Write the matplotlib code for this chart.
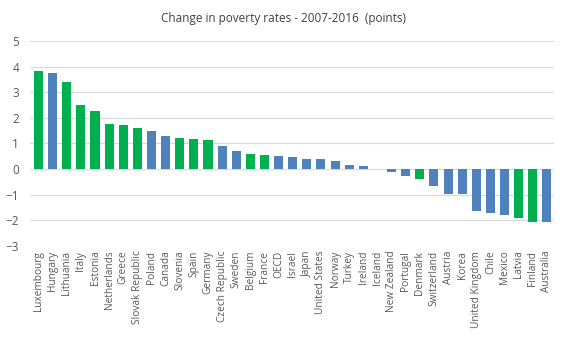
import matplotlib
matplotlib.use('Agg')
import matplotlib.pyplot as plt

countries = ['Luxembourg', 'Hungary', 'Lithuania', 'Italy', 'Estonia', 'Netherlands',
             'Greece', 'Slovak Republic', 'Poland', 'Canada', 'Slovenia', 'Spain',
             'Germany', 'Czech Republic', 'Sweden', 'Belgium', 'France', 'OECD',
             'Israel', 'Japan', 'United States', 'Norway', 'Turkey', 'Ireland',
             'Iceland', 'New Zealand', 'Portugal', 'Denmark', 'Switzerland', 'Austria',
             'Korea', 'United Kingdom', 'Chile', 'Mexico', 'Latvia', 'Finland', 'Australia']
change = [3.83, 3.76, 3.40, 2.50, 2.28, 1.76, 1.72, 1.60, 1.48, 1.29, 1.21, 1.17,
          1.13, 0.90, 0.70, 0.59, 0.55, 0.51, 0.47, 0.40, 0.40, 0.31, 0.16, 0.12,
          0.0, -0.10, -0.26, -0.39, -0.65, -0.96, -0.96, -1.64, -1.70, -1.80,
          -1.91, -2.06, -2.06]
green = ['Luxembourg', 'Lithuania', 'Italy', 'Estonia', 'Netherlands', 'Greece',
         'Slovak Republic', 'Slovenia', 'Spain', 'Germany', 'Belgium', 'France',
         'Denmark', 'Latvia', 'Finland']

colors = ['#00B050' if c in green else '#4F81BD' for c in countries]

plt.rcParams['font.family'] = ['Open Sans', 'DejaVu Sans']
fig = plt.figure(figsize=(5.67, 3.4), dpi=100)
ax = fig.add_axes([0.053, 0.277, 0.924, 0.602])

ax.bar(range(len(countries)), change, width=0.64, color=colors, zorder=2)

ax.set_ylim(-3, 5)
ax.set_xlim(-0.6, len(countries) - 0.5)
ax.set_yticks(range(-3, 6))
ax.grid(axis='y', color='#D9D9D9', linewidth=0.8, zorder=0)
for s in ax.spines.values():
    s.set_visible(False)
ax.tick_params(length=0, colors='#595959')
ax.tick_params(axis='y', pad=8, labelsize=8.5)
ax.set_xticks(range(len(countries)))
ax.set_xticklabels(countries, rotation=90, fontsize=7.3)

fig.text(0.5, 0.945, 'Change in poverty rates - 2007-2016  (points)', ha='center',
         va='center', fontsize=8.5, color='#404040')

fig.savefig('out.png', dpi=100)
